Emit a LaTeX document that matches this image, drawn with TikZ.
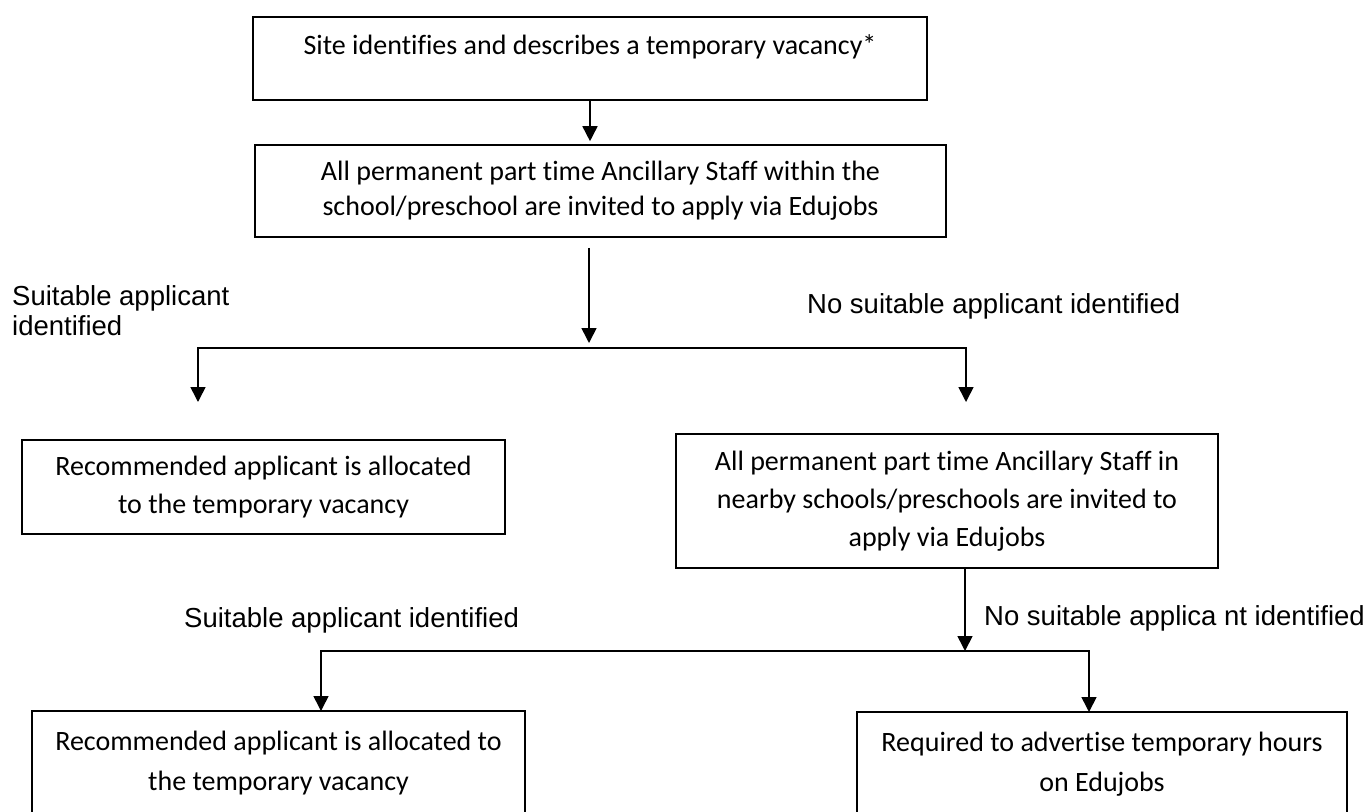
\documentclass[tikz,border=0pt]{standalone}
\usepackage{fontspec}
\newfontfamily\boxfont[Ligatures=NoCommon]{Carlito}
\newfontfamily\labelfont{Liberation Sans}
\usetikzlibrary{arrows.meta,calc}

\begin{document}
\begin{tikzpicture}
[x=1pt,y=-1pt,
  boxDecorate/.style={shape=rectangle,draw,line width=1.6pt,inner sep=0pt,align=center,
    font=\boxfont\fontsize{28}{38}\selectfont},
  lineDecorate/.style={-{Triangle[width=15pt,length=15pt]},line width=1.6pt},
  labelDecorate/.style={inner sep=0pt,align=left,font=\labelfont\fontsize{27.5}{30}\selectfont}]
\useasboundingbox (0,0) rectangle (1367,811);
%% boxes
\node (site) at (590,16) [boxDecorate,anchor=north,minimum width=674pt,
  text height=38pt,text depth=45pt] {Site identifies and describes a temporary vacancy*};
\node (within) at (600.5,191) [boxDecorate,minimum width=691pt,minimum height=92pt,
  font=\boxfont\fontsize{28}{35}\selectfont]
  {All permanent part time Ancillary Staff within the\\school/preschool are invited to apply via Edujobs};
\node (alloc1) at (263.5,487) [boxDecorate,minimum width=483pt,minimum height=94pt]
  {Recommended applicant is allocated\\to the temporary vacancy};
\node (nearby) at (947,501) [boxDecorate,minimum width=542pt,minimum height=134pt]
  {All permanent part time Ancillary Staff in\\nearby schools/preschools are invited to\\apply via Edujobs};
\node (alloc2) at (278.5,763) [boxDecorate,minimum width=493pt,minimum height=104pt,
  font=\boxfont\fontsize{28}{40}\selectfont]
  {Recommended applicant is allocated to\\the temporary vacancy};
\node (advert) at (1102,764) [boxDecorate,minimum width=490pt,minimum height=104pt,
  font=\boxfont\fontsize{28}{40}\selectfont]
  {Required to advertise temporary hours\\on Edujobs};
%% labels
\node (yes1) at (12,285) [labelDecorate,anchor=north west] {Suitable applicant\\identified};
\node (no1) at (807,313) [labelDecorate,anchor=base west] {No suitable applicant identified};
\node (yes2) at (184,627) [labelDecorate,anchor=base west] {Suitable applicant identified};
\node (no2) at (984,625) [labelDecorate,anchor=base west] {No suitable applica nt identified};
%% forks and free arrow ends
\foreach \pointname/\x/\y in {fork1/589/348, fork2/965/651, dropL/198/402, dropR/966/402,
  dropLL/321/711, dropRR/1089/712}
{
  \coordinate (\pointname) at (\x,\y);
}
%% arrows
\draw[lineDecorate] (site.south) -- ($(site.south |- within.north)+(0,-3)$);
\draw[lineDecorate] ($(fork1 |- within.south)+(0,10)$) -- ($(fork1)+(0,-5)$);
\draw[lineDecorate] (fork2 |- nearby.south) -- (fork2);
\foreach \startnode/\endnode in {fork1/dropL, fork1/dropR, fork2/dropLL, fork2/dropRR}
{
  \draw[lineDecorate] (\startnode) -| (\endnode);
}
\end{tikzpicture}
\end{document}
